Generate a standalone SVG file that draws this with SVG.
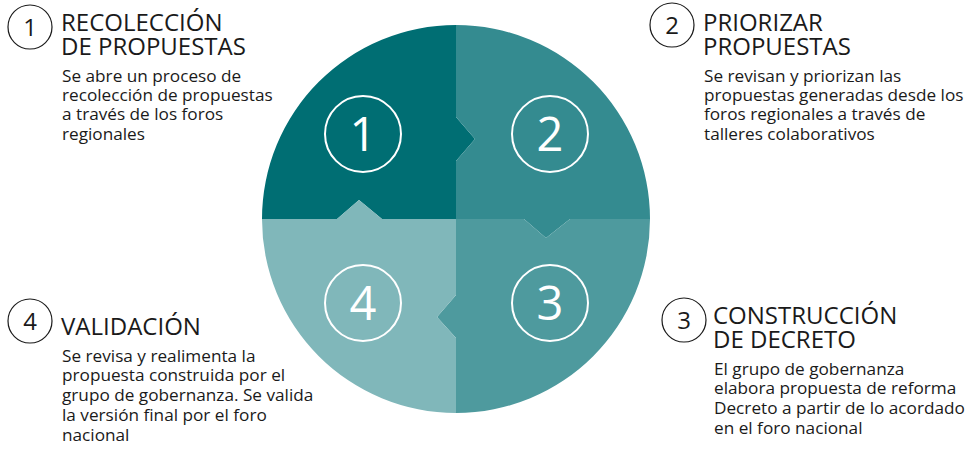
<svg xmlns="http://www.w3.org/2000/svg" width="971" height="452" viewBox="0 0 971 452">
<style>
.badge{fill:none;stroke:#1a1a1a;stroke-width:1.2}
.bnum{font-family:"Open Sans","Liberation Sans",sans-serif;font-size:24px;fill:#1a1a1a;text-anchor:middle}
.title{font-family:"Open Sans","Liberation Sans",sans-serif;font-size:24px;fill:#1a1a1a}
.body{font-family:"Open Sans","Liberation Sans",sans-serif;font-size:17.2px;fill:#1a1a1a}
.ring{fill:none;stroke:#ffffff;stroke-width:2}
.num{font-family:"Open Sans","Liberation Sans",sans-serif;font-size:47px;fill:#ffffff;text-anchor:middle}
</style>
<g id="puzzle">
<path id="q1" fill="#006e73" d="M456,219 L382,219 L359,200 L337,219 L262,219 A194,194 0 0 1 456,25 L456,117 L475,139 L456,161 Z"/>
<path id="q2" fill="#348b90" d="M456,25 A194,194 0 0 1 650,219 L570,219 L546,238 L524,219 L456,219 L456,161 L475,139 L456,117 Z"/>
<path id="q3" fill="#4e9a9e" d="M650,219 A194,194 0 0 1 456,413 L456,338 L437,317 L456,295 L456,219 L524,219 L546,238 L570,219 Z"/>
<path id="q4" fill="#80b7ba" d="M456,413 A194,194 0 0 1 262,219 L337,219 L359,200 L382,219 L456,219 L456,295 L437,317 L456,338 Z"/>
</g>
<g id="piece-1"><circle class="ring" cx="363" cy="134" r="38"/><text class="num" x="363" y="151">1</text></g>
<g id="piece-2"><circle class="ring" cx="550" cy="134" r="38"/><text class="num" x="550" y="151">2</text></g>
<g id="piece-3"><circle class="ring" cx="550" cy="303" r="38"/><text class="num" x="550" y="320">3</text></g>
<g id="piece-4"><circle class="ring" cx="363" cy="303" r="38"/><text class="num" x="363" y="320">4</text></g>
<g id="step-1">
<circle class="badge" cx="30" cy="27" r="22"/><text class="bnum" x="30" y="36">1</text>
<text class="title" x="61" y="31">RECOLECCIÓN</text>
<text class="title" x="61" y="55">DE PROPUESTAS</text>
<text class="body" x="62" y="82">Se abre un proceso de</text>
<text class="body" x="62" y="101">recolección de propuestas</text>
<text class="body" x="62" y="120">a través de los foros</text>
<text class="body" x="62" y="140">regionales</text>
</g>
<g id="step-2">
<circle class="badge" cx="672" cy="25" r="22"/><text class="bnum" x="672" y="34">2</text>
<text class="title" x="703" y="31">PRIORIZAR</text>
<text class="title" x="703" y="55">PROPUESTAS</text>
<text class="body" x="704" y="82">Se revisan y priorizan las</text>
<text class="body" x="704" y="101">propuestas generadas desde los</text>
<text class="body" x="704" y="120">foros regionales a través de</text>
<text class="body" x="704" y="140">talleres colaborativos</text>
</g>
<g id="step-3">
<circle class="badge" cx="684" cy="320" r="22"/><text class="bnum" x="684" y="329">3</text>
<text class="title" x="713" y="324">CONSTRUCCIÓN</text>
<text class="title" x="713" y="348">DE DECRETO</text>
<text class="body" x="714" y="375">El grupo de gobernanza</text>
<text class="body" x="714" y="394">elabora propuesta de reforma</text>
<text class="body" x="714" y="414">Decreto a partir de lo acordado</text>
<text class="body" x="714" y="434">en el foro nacional</text>
</g>
<g id="step-4">
<circle class="badge" cx="30" cy="321" r="22"/><text class="bnum" x="30" y="330">4</text>
<text class="title" x="61" y="335">VALIDACIÓN</text>
<text class="body" x="62" y="362">Se revisa y realimenta la</text>
<text class="body" x="62" y="381">propuesta construida por el</text>
<text class="body" x="62" y="401">grupo de gobernanza. Se valida</text>
<text class="body" x="62" y="421">la versión final por el foro</text>
<text class="body" x="62" y="441">nacional</text>
</g>
</svg>
